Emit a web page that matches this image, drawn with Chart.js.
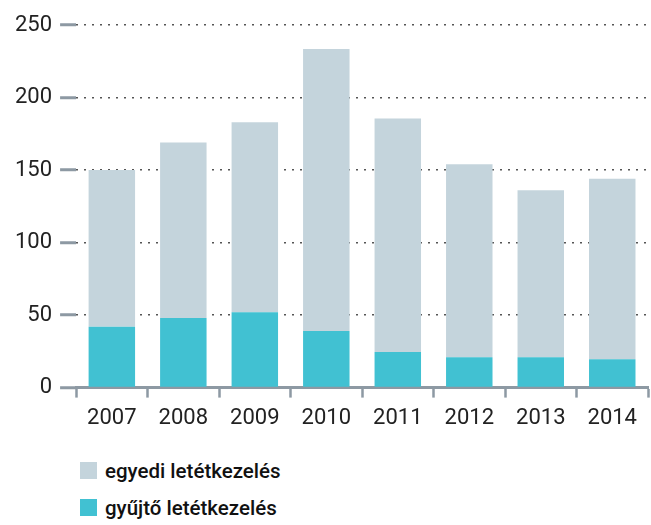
<!DOCTYPE html>
<html lang="hu">
<head>
  <meta charset="UTF-8">
  <title>Letétkezelés</title>
  <script src="https://cdn.jsdelivr.net/npm/chart.js@4/dist/chart.umd.min.js"></script>
  <style>
    body { margin: 0; background: #fff; }
    .wrap { position: relative; width: 651px; height: 525px; }
    .chart-box { position: absolute; left: 0; top: 0; width: 651px; height: 440px; }
    .legend { position: absolute; left: 80px; top: 452px; font-family: Roboto, sans-serif; font-size: 20.5px; font-weight: 500; color: #111; }
    .legend div { height: 37px; display: flex; align-items: center; }
    .legend span.box { display: inline-block; width: 17px; height: 17px; margin-right: 8px; }
  </style>
</head>
<body>
<div class="wrap">
  <div class="chart-box"><canvas id="chart"></canvas></div>
  <div class="legend" id="legend"></div>
</div>

<script>
  // data
  const years = ['2007', '2008', '2009', '2010', '2011', '2012', '2013', '2014'];
  const gyujto = [42, 48, 52, 39, 24.5, 21, 21, 19.5];
  const egyedi = [108, 121, 131, 194.5, 161, 133, 115, 124.5];
  const yTicks = [0, 50, 100, 150, 200, 250];

  const colors = { egyedi: '#c4d4dc', gyujto: '#41c1d2' };
  const axisGrey = '#8d99a3';

  const ctx = document.getElementById('chart').getContext('2d');
  const chart = new Chart(ctx, {
    type: 'bar',
    data: {
      labels: years,
      datasets: [
        { label: 'gyűjtő letétkezelés', data: gyujto, backgroundColor: colors.gyujto },
        { label: 'egyedi letétkezelés', data: egyedi, backgroundColor: colors.egyedi }
      ]
    },
    options: {
      responsive: true,
      maintainAspectRatio: false,
      animation: false,
      layout: { padding: { top: 25, right: 3, left: 7, bottom: 0 } },
      datasets: { bar: { categoryPercentage: 1, barPercentage: 0.65 } },
      plugins: { legend: { display: false }, tooltip: { enabled: false } },
      scales: {
        x: {
          stacked: true,
          grid: { drawOnChartArea: false, tickLength: 10, tickWidth: 2.5, tickColor: axisGrey, offset: true },
          border: { display: true, color: axisGrey, width: 3 },
          ticks: { color: '#222', padding: 8, font: { family: 'Roboto', size: 22 } }
        },
        y: {
          stacked: true,
          min: 0,
          max: 250,
          afterBuildTicks: axis => { axis.ticks = yTicks.map(v => ({ value: v })); },
          grid: { color: '#555', lineWidth: 1.5, tickLength: 16, tickWidth: 3, tickColor: axisGrey, tickBorderDash: [] },
          border: { display: false, dash: [2, 6] },
          ticks: { color: '#222', padding: 8, font: { family: 'Roboto', size: 22 } }
        }
      }
    }
  });

  // HTML legend, grey series listed first
  const legendItems = [chart.data.datasets[1], chart.data.datasets[0]];
  document.getElementById('legend').innerHTML = legendItems.map(ds =>
    `<div><span class="box" style="background:${ds.backgroundColor}"></span>${ds.label}</div>`
  ).join('');
</script>
</body>
</html>
